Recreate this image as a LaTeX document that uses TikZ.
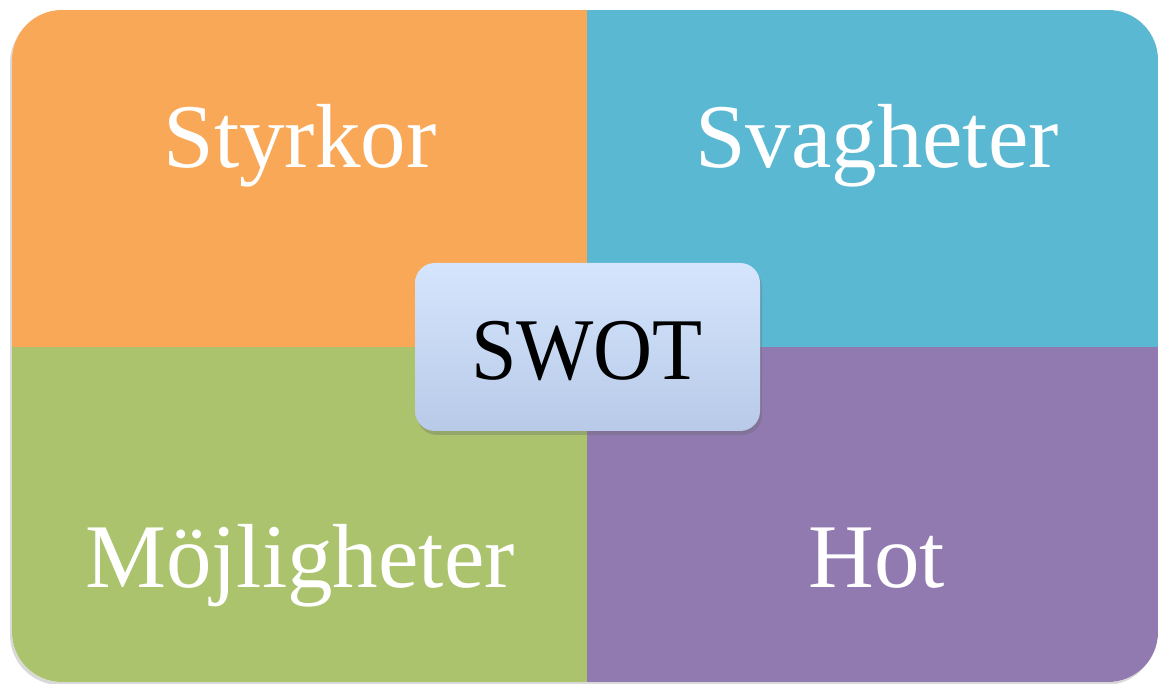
\documentclass[tikz,border=0pt]{standalone}
\usepackage{fontspec}
\setmainfont{Liberation Serif}
\usetikzlibrary{shadows}
\definecolor{orng}{HTML}{F9A857}
\definecolor{blu}{HTML}{5BB8D2}
\definecolor{grn}{HTML}{AAC36C}
\definecolor{purp}{HTML}{917AB0}
\definecolor{boxtop}{HTML}{D5E5FD}
\definecolor{boxbot}{HTML}{B8CAE8}
\tikzset{
  quadlabel/.style={anchor=base, text=white, font=\fontsize{91}{105}\selectfont, inner sep=0pt},
  centerbox/.style={rectangle, rounded corners=20pt, minimum width=345pt, minimum height=168pt,
    top color=boxtop, bottom color=boxbot, draw=none,
    drop shadow={shadow xshift=2pt, shadow yshift=-4pt, opacity=0.3, fill=black!60}},
}
\begin{document}
\begin{tikzpicture}[x=1pt,y=1pt]
\path[use as bounding box] (0,0) rectangle (1161,684);
% outer shadow
\path[rounded corners=50pt, fill=white, drop shadow={shadow xshift=-2pt, shadow yshift=-3pt, opacity=0.3, fill=black!50}] (12,2) rectangle (1158,674);
\begin{scope}
\clip[rounded corners=50pt] (12,2) rectangle (1158,674);
\fill[orng] (12,337) rectangle (587,674);
\fill[blu] (587,337) rectangle (1158,674);
\fill[grn] (12,2) rectangle (587,337);
\fill[purp] (587,2) rectangle (1158,337);
\end{scope}
\node[quadlabel] (s) at (300,516) {Styrkor};
\node[quadlabel] (w) at (877,516) {Svagheter};
\node[quadlabel] (o) at (300,96) {Möjligheter};
\node[quadlabel] (t) at (877,96) {Hot};
\node[centerbox] (c) at (587.5,337) {};
\node[anchor=base, inner sep=0pt, font=\fontsize{88}{100}\selectfont] (swot) at (587,304) {\scalebox{0.93}[1]{SWOT}};
\end{tikzpicture}
\end{document}
